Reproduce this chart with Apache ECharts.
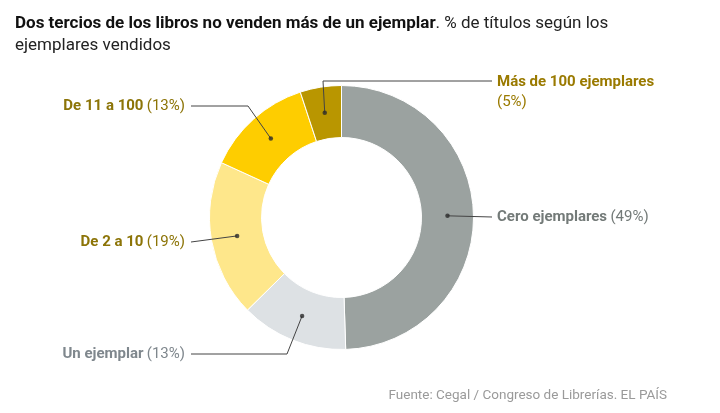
<!DOCTYPE html>
<html>
<head>
<meta charset="utf-8">
<script src="https://cdn.jsdelivr.net/npm/echarts@6/dist/echarts.min.js"></script>
<style>
  html, body { margin: 0; padding: 0; background: #fff; }
  #chart { width: 720px; height: 413px; }
</style>
</head>
<body>
<div id="chart"></div>
<script>
// % de títulos según los ejemplares vendidos
const categories = ['Cero ejemplares', 'Un ejemplar', 'De 2 a 10', 'De 11 a 100', 'Más de 100 ejemplares'];
const values = [49, 13, 19, 13, 5];
const sliceColors = ['#9ba2a0', '#dde1e4', '#fee78b', '#fecd00', '#b99600'];
const labelColors = ['#737a78', '#7f878d', '#8c7407', '#8c7407', '#9a7a00'];

// where each label sits and where its leader line bends
const labelSpots = [
    { x: 497, y: 217, align: 'left' },
    { x: 185, y: 354, align: 'right', elbowX: 287 },
    { x: 185, y: 242, align: 'right' },
    { x: 185, y: 106, align: 'right', elbowX: 248 },
    { x: 497, y: 81, align: 'left', elbowX: 323, twoLines: true }
];

const FONT = 'Roboto, "Noto Sans", sans-serif';
const center = [341.5, 217.5];
const outerR = 132, innerR = 80, dotR = 106;

const total = values.reduce((a, b) => a + b, 0);
let acc = 0;
const dotData = values.map(v => {
    const mid = acc + v / 2;
    acc += v;
    return [dotR, mid];
});

const pieData = categories.map((name, i) => ({ name: name, value: values[i] }));

const chart = echarts.init(document.getElementById('chart'));

const options = {
    animation: false,
    title: [
        {
            left: 10,
            top: 8,
            text: '{b|Dos tercios de los libros no venden más de un ejemplar}{n|. % de títulos según los}\n{n|ejemplares vendidos}',
            textStyle: {
                rich: {
                    b: { fontFamily: FONT, fontSize: 17, fontWeight: 'bold', color: '#111', lineHeight: 22 },
                    n: { fontFamily: FONT, fontSize: 17, fontWeight: 'normal', color: '#222', lineHeight: 22 }
                }
            }
        },
        {
            right: 48,
            top: 384,
            text: 'Fuente: Cegal / Congreso de Librerías. EL PAÍS',
            textStyle: { fontFamily: FONT, fontSize: 13.5, fontWeight: 'normal', color: '#9a9a9a' }
        }
    ],
    polar: { center: center, radius: outerR },
    angleAxis: { type: 'value', min: 0, max: total, startAngle: 90, clockwise: true, show: false },
    radiusAxis: { type: 'value', min: 0, max: outerR, show: false },
    series: [
        {
            name: 'ring',
            type: 'pie',
            z: 1,
            center: center,
            radius: [innerR, outerR],
            startAngle: 90,
            silent: true,
            label: { show: false },
            labelLine: { show: false },
            itemStyle: { borderColor: '#fff', borderWidth: 1 },
            data: pieData.map((d, i) => ({ ...d, itemStyle: { color: sliceColors[i] } }))
        },
        {
            name: 'labels',
            type: 'pie',
            z: 3,
            center: center,
            radius: [0, dotR],
            startAngle: 90,
            silent: true,
            avoidLabelOverlap: false,
            itemStyle: { color: 'rgba(0,0,0,0)' },
            label: {
                show: true,
                position: 'outside',
                formatter: p => {
                    const sep = labelSpots[p.dataIndex].twoLines ? '\n' : ' ';
                    return '{b|' + p.name + '}' + sep + '{p|(' + p.value + '%)}';
                },
                rich: {
                    b: { fontFamily: FONT, fontSize: 15, fontWeight: 'bold', lineHeight: 20 },
                    p: { fontFamily: FONT, fontSize: 15, lineHeight: 20 }
                }
            },
            labelLine: { show: true, lineStyle: { color: '#444', width: 1 } },
            labelLayout: params => {
                const spot = labelSpots[params.dataIndex];
                const start = params.labelLinePoints[0];
                const endX = spot.align === 'left' ? spot.x - 5 : spot.x + 6;
                const bendX = spot.elbowX != null ? spot.elbowX : endX;
                return {
                    x: spot.x,
                    y: spot.twoLines ? spot.y - 9 : spot.y,
                    align: spot.align,
                    verticalAlign: spot.twoLines ? 'top' : 'middle',
                    labelLinePoints: [start, [bendX, spot.y], [endX, spot.y]]
                };
            },
            data: pieData.map((d, i) => ({
                ...d,
                label: { color: labelColors[i] }
            }))
        },
        {
            name: 'dots',
            type: 'scatter',
            z: 4,
            coordinateSystem: 'polar',
            silent: true,
            symbolSize: 4.5,
            itemStyle: { color: '#2b2b2b' },
            data: dotData
        }
    ]
};

chart.setOption(options);
</script>
</body>
</html>
